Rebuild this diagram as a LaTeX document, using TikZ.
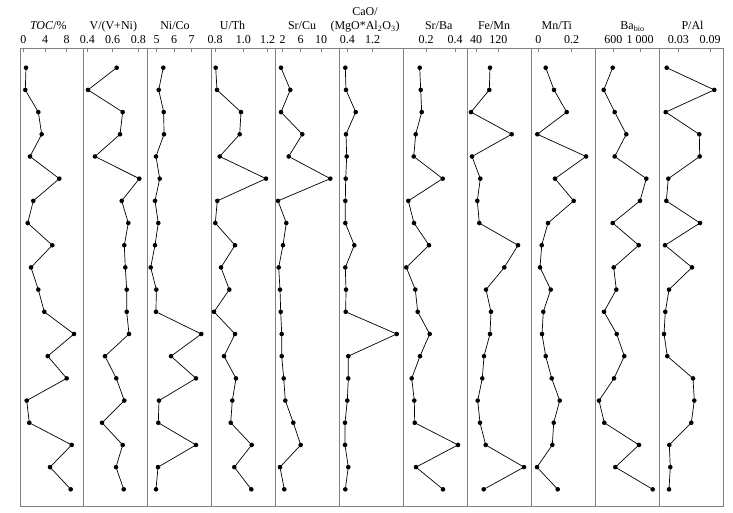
\documentclass[tikz,border=0pt]{standalone}
\usepackage{fontspec}
\setmainfont{Liberation Serif}

\tikzset{
  curve/.style={black,line width=0.7pt},
  frame/.style={gray,line width=0.8pt},
  ticklab/.style={anchor=base,inner sep=0pt,font=\fontsize{12}{14}\selectfont},
  title/.style={anchor=base,inner sep=0pt,font=\fontsize{12}{14}\selectfont}
}

% one proxy profile: name, then the 20 x positions from top to bottom
\newcommand\proxycurve[2]{%
  \foreach \x [count=\i] in {#2}
    \coordinate (#1\i) at (\x,{67.7+22.19*(\i-1)});
  \draw[curve] (#11) \foreach \i in {2,...,20} { -- (#1\i) };
  \foreach \i in {1,...,20}
    \fill (#1\i) circle (2.3pt);
}

\begin{document}
\begin{tikzpicture}[x=1pt,y=-1pt]
  \useasboundingbox (0,0) rectangle (733,512);

  % panel frames
  \foreach \a/\b in {20.7/83.3,83.3/147,147/211,211/275.7,275.7/339.3,
    339.3/403.3,403.3/467,467/531.7,531.7/595.3,595.3/659,659/723.3}
    \draw[frame] (\a,48) rectangle (\b,506);

  % ticks and tick labels
  \foreach \x/\t [count=\k] in {23.3/0,45/4,66.7/8,
    87.3/0.4,112.7/0.6,138.3/0.8,
    156.7/5,174/6,191.7/7,
    215/0.8,243.3/1.0,267.7/1.2,
    282.7/2,300.7/6,321/10,
    347.3/0.4,372.7/1.2,
    426/0.2,455/0.4,
    476/40,498.3/120,
    538.3/0,571.7/0.2,
    613.3/600,640/1 000,
    678.3/0.03,710/0.09}
  {
    \draw[frame] (\x,48) -- (\x,51.5);
    \node[ticklab] (tick\k) at (\x,43.8) {\t};
  }

  % titles
  \node[title] (toc) at (48.3,29.5) {\textit{TOC}/\%};
  \node[title] (vvni) at (113.3,29.5) {V/(V+Ni)};
  \node[title] (nico) at (175,29.5) {Ni/Co};
  \node[title] (uth) at (232.5,29.5) {U/Th};
  \node[title] (srcu) at (302,29.5) {Sr/Cu};
  \node[title] (cao) at (365,15.5) {CaO/};
  \node[title] (mgo) at (365,29.5) {(MgO*Al\textsubscript{2}O\textsubscript{3})};
  \node[title] (srba) at (438.7,29.5) {Sr/Ba};
  \node[title] (femn) at (494,29.5) {Fe/Mn};
  \node[title] (mnti) at (556.7,29.5) {Mn/Ti};
  \node[title] (babio) at (632.5,29.5) {Ba\textsubscript{bio}};
  \node[title] (pal) at (692.5,29.5) {P/Al};

  % profiles
  \proxycurve{toc}{26,25.3,38.3,41.7,30,59.3,33.3,27.7,52.3,31,
    38.3,44.3,74,47.7,66.7,26.7,29.3,71.7,50,70.7}
  \proxycurve{vvni}{116.7,88,122.7,120,95,139.3,121.7,128.3,124.3,125.3,
    126.7,126.7,129,105,116.3,124.3,102,122.7,116,123.7}
  \proxycurve{nico}{163.3,158.7,163.7,164,156,159.7,155,158.3,155,150.7,
    156.3,156,201.3,171,196,159,158.3,196,158,156}
  \proxycurve{uth}{215.7,217,241,239.7,219.7,266,217.3,215.3,235,221,
    229.3,214,235,224,236,232.3,230.7,251.7,234.3,251.3}
  \proxycurve{srcu}{281,290.3,281,302.3,288.7,330.3,278,286.3,283,278.7,
    280,280.7,281.7,281.7,283.7,285.3,293.3,300.7,280,284.3}
  \proxycurve{cao}{345.3,346,355.7,346,346.7,345.7,345.3,345.3,354.3,345.3,
    346,345.7,396.7,348.3,348.3,347.3,345,345,348.3,345.3}
  \proxycurve{srba}{419.7,420.7,421.7,415.7,413.7,442.7,408.3,414,429,406.3,
    415.3,417.7,429.7,420,411.7,414.3,414.7,458,416,443}
  \proxycurve{femn}{490,489.3,471,511.7,472,480.3,477.3,479.3,518,504.3,
    486,491,490,484,482.3,477.7,480,485.7,524,483.7}
  \proxycurve{mnti}{545.7,554,566.7,537.3,586,555,573.7,548,541.7,540,
    550.7,543.3,542,545.7,551.7,559.7,553.7,552.3,537,557.7}
  \proxycurve{babio}{612.7,603.7,614.7,626.3,614.7,646.3,640,612.7,638.7,613.7,
    616.3,604,616.7,624.3,614,599,604.3,639,615.3,652.7}
  \proxycurve{pal}{666.7,714.3,665.7,699.3,699.7,668.3,666.3,700,665,692,
    669,665.3,664,667.3,693,694.3,691.3,669.3,670.3,669}
\end{tikzpicture}
\end{document}
